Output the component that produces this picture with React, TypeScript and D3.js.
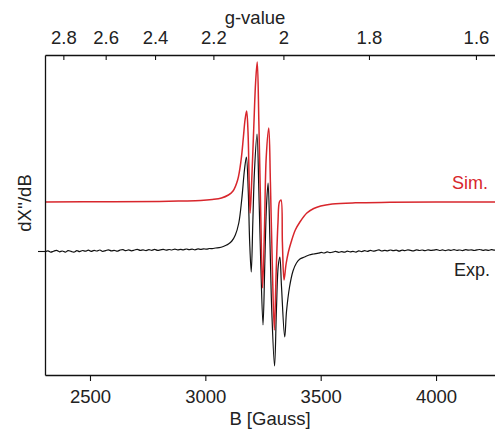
import React, { useRef, useEffect } from 'react';
import * as d3 from 'd3';

// experimental trace: [B in Gauss, dX''/dB], baseline at 0
const expData: [number, number][] = [
  [2305, -0.01], [2318, 0.002], [2330, -0.012], [2342, -0.002], [2355, 0.006], [2368, -0.008],
  [2380, 0.0], [2393, -0.011], [2405, 0.004], [2418, -0.004], [2430, -0.012], [2443, 0.003],
  [2455, -0.006], [2468, 0.005], [2480, -0.002], [2493, 0.008], [2505, -0.004], [2518, 0.006],
  [2530, 0.0], [2543, 0.01], [2555, -0.003], [2568, 0.004], [2580, 0.012], [2593, 0.001],
  [2605, 0.007], [2618, -0.002], [2630, 0.009], [2643, 0.014], [2655, 0.003], [2668, 0.011],
  [2680, 0.002], [2693, 0.01], [2705, 0.016], [2718, 0.006], [2730, 0.012], [2743, 0.004],
  [2755, 0.013], [2768, 0.007], [2780, 0.016], [2793, 0.006], [2805, 0.011], [2818, 0.017],
  [2830, 0.008], [2843, 0.015], [2855, 0.01], [2868, 0.019], [2880, 0.011], [2893, 0.017],
  [2905, 0.012], [2918, 0.02], [2930, 0.013], [2943, 0.018], [2955, 0.012], [2968, 0.021],
  [2980, 0.016], [2993, 0.022], [3005, 0.018], [3018, 0.025], [3030, 0.024], [3045, 0.03],
  [3060, 0.034], [3075, 0.042], [3088, 0.055], [3100, 0.07], [3115, 0.1],
  [3130, 0.16], [3145, 0.28], [3158, 0.52], [3170, 0.82], [3178, 0.94],
  [3186, 0.6], [3192, 0.1], [3199, -0.21], [3206, 0.3], [3213, 0.8], [3224, 1.17],
  [3232, 0.6], [3240, -0.1], [3250, -0.74], [3258, -0.1], [3265, 0.45], [3272, 0.68],
  [3280, 0.1], [3288, -0.6], [3300, -1.15], [3308, -0.6], [3316, -0.15], [3323, -0.06],
  [3330, -0.35], [3344, -0.86], [3352, -0.6], [3365, -0.36], [3380, -0.2], [3395, -0.12],
  [3410, -0.08], [3430, -0.06], [3450, -0.04], [3470, -0.03], [3490, -0.022],
  [3503, -0.014], [3515, -0.02], [3528, -0.009], [3540, -0.016], [3553, -0.011], [3565, -0.004],
  [3578, -0.013], [3590, -0.006], [3603, -0.012], [3615, -0.002], [3628, -0.009], [3640, -0.004],
  [3653, -0.011], [3665, 0.001], [3678, -0.006], [3690, 0.003], [3703, -0.004], [3715, 0.006],
  [3728, -0.002], [3740, 0.004], [3753, 0.011], [3765, 0.0], [3778, 0.007], [3790, 0.002],
  [3803, 0.01], [3815, 0.003], [3828, 0.008], [3840, -0.001], [3853, 0.009], [3865, 0.004],
  [3878, 0.012], [3890, 0.006], [3903, 0.002], [3915, 0.011], [3928, 0.005], [3940, 0.01],
  [3953, 0.003], [3965, 0.012], [3978, 0.006], [3990, 0.009], [4003, 0.014], [4015, 0.005],
  [4028, 0.011], [4040, 0.004], [4053, 0.012], [4065, 0.007], [4078, 0.013], [4090, 0.006],
  [4103, 0.01], [4115, 0.004], [4128, 0.013], [4140, 0.008], [4153, 0.012], [4165, 0.005],
  [4178, 0.011], [4190, 0.015], [4203, 0.007], [4215, 0.012], [4228, 0.006], [4240, 0.013],
  [4253, 0.009], [4265, 0.014], [4278, 0.008], [4300, 0.012],
];

// simulated trace, relative to its own baseline
const simData: [number, number][] = [
  [2305, 0], [2600, 0.003], [2800, 0.006], [2900, 0.01], [2980, 0.015], [3030, 0.025],
  [3070, 0.04], [3100, 0.07], [3120, 0.11], [3140, 0.22], [3155, 0.42], [3165, 0.65],
  [3172, 0.82], [3179, 0.91], [3185, 0.7], [3190, 0.2], [3194, -0.11], [3200, 0.15],
  [3210, 0.75], [3218, 1.2], [3225, 1.4], [3232, 0.8], [3240, -0.1], [3248, -0.86],
  [3256, -0.3], [3264, 0.45], [3275, 0.74], [3282, 0.2], [3290, -0.6], [3299, -1.28],
  [3307, -0.7], [3315, -0.2], [3321, 0.0], [3328, 0.02], [3334, -0.4], [3341, -0.78],
  [3350, -0.62], [3360, -0.5], [3372, -0.4], [3390, -0.28], [3410, -0.2], [3440, -0.11],
  [3470, -0.065], [3500, -0.04], [3550, -0.02], [3650, -0.008], [3800, -0.003],
  [4000, 0], [4300, 0],
];

const simOffset = 0.49;

const bTicks = [2500, 3000, 3500, 4000];
const gTicks = [2.8, 2.6, 2.4, 2.2, 2.0, 1.8, 1.6];
const gTickLabels = ['2.8', '2.6', '2.4', '2.2', '2', '1.8', '1.6'];

const freqGHz = 9.345;
const gToB = (g: number) => (714.477 * freqGHz) / g;

const RED = '#d8262c';
const FONT = '"Liberation Sans", Arial, sans-serif';

const App = () => {
  const svgRef = useRef<SVGSVGElement>(null);

  useEffect(() => {
    const width = 495, height = 430;
    const left = 45, top = 55, bottom = 375;

    const svg = d3.select(svgRef.current)
      .attr('width', width)
      .attr('height', height)
      .style('position', 'absolute')
      .style('left', '0px')
      .style('top', '0px')
      .style('background', '#fff');

    svg.selectAll('*').remove();

    const x = d3.scaleLinear().domain([2305, 4300]).range([left, left + 1995 * 0.2307]);
    const y = d3.scaleLinear().domain([-1.24, 1.96]).range([bottom, top]);

    svg.append('defs').append('clipPath').attr('id', 'plotclip')
      .append('rect').attr('x', left).attr('y', top)
      .attr('width', width - left).attr('height', bottom - top);

    const line = d3.line<[number, number]>()
      .x(d => x(d[0]))
      .curve(d3.curveCatmullRom.alpha(0.5));

    svg.append('path')
      .datum(expData)
      .attr('clip-path', 'url(#plotclip)')
      .attr('fill', 'none')
      .attr('stroke', '#111')
      .attr('stroke-width', 1.2)
      .attr('d', line.y(d => y(d[1])));

    svg.append('path')
      .datum(simData)
      .attr('clip-path', 'url(#plotclip)')
      .attr('fill', 'none')
      .attr('stroke', RED)
      .attr('stroke-width', 1.5)
      .attr('d', line.y(d => y(d[1] + simOffset)));

    // minor tick positions
    const bMinor = d3.range(2500 - 2 * 500 / 6, 4300, 500 / 6)
      .filter(v => !bTicks.some(t => Math.abs(t - v) < 1));
    const gMinor = d3.range(2.9, 1.5, -0.2 / 6)
      .filter(g => !gTicks.some(t => Math.abs(t - g) < 0.001))
      .map(gToB)
      .filter(b => b > 2305 && b < 4300);

    // bottom axis
    const gb = svg.append('g').attr('transform', `translate(0,${bottom})`);
    gb.call(d3.axisBottom(x).tickValues(bMinor).tickSize(4).tickFormat(() => ''));
    gb.call(d3.axisBottom(x).tickValues(bTicks).tickSizeInner(6).tickSizeOuter(0).tickPadding(9)
      .tickFormat(d3.format('d')));

    // top axis (g-value), ticks inward
    const gt = svg.append('g').attr('transform', `translate(0,${top})`);
    gt.call(d3.axisTop(x).tickValues(gMinor).tickSize(-3).tickFormat(() => ''));
    gt.call(d3.axisTop(x).tickValues(gTicks.map(gToB)).tickSizeInner(-5).tickSizeOuter(0).tickPadding(11)
      .tickFormat((_, i) => gTickLabels[i]));

    // left axis, single tick at experimental baseline
    svg.append('g').attr('transform', `translate(${left},0)`)
      .call(d3.axisLeft(y).tickValues([0]).tickSizeInner(7).tickSizeOuter(0).tickFormat(() => ''));

    svg.selectAll('.domain').attr('stroke', '#111').attr('stroke-width', 1.3);
    svg.selectAll('.tick line').attr('stroke', '#111').attr('stroke-width', 1.1);
    svg.selectAll('.tick text')
      .attr('fill', '#222')
      .style('font-family', FONT)
      .style('font-size', '18.5px');

    // titles
    svg.append('text')
      .attr('x', 270).attr('y', 425)
      .attr('text-anchor', 'middle')
      .style('font-family', FONT).style('font-size', '18.5px').attr('fill', '#222')
      .text('B [Gauss]');

    svg.append('text')
      .attr('x', 255).attr('y', 24)
      .attr('text-anchor', 'middle')
      .style('font-family', FONT).style('font-size', '18.5px').attr('fill', '#222')
      .text('g-value');

    svg.append('text')
      .attr('transform', 'translate(31,203) rotate(-90)')
      .attr('text-anchor', 'middle')
      .style('font-family', FONT).style('font-size', '18.5px').attr('fill', '#222')
      .text("dX''/dB");

    // legend labels
    svg.append('text')
      .attr('x', 488).attr('y', 189)
      .attr('text-anchor', 'end')
      .style('font-family', FONT).style('font-size', '18px').attr('fill', RED)
      .text('Sim.');

    svg.append('text')
      .attr('x', 490).attr('y', 276)
      .attr('text-anchor', 'end')
      .style('font-family', FONT).style('font-size', '18px').attr('fill', '#222')
      .text('Exp.');
  }, []);

  return <svg ref={svgRef}></svg>;
};

export default App;
